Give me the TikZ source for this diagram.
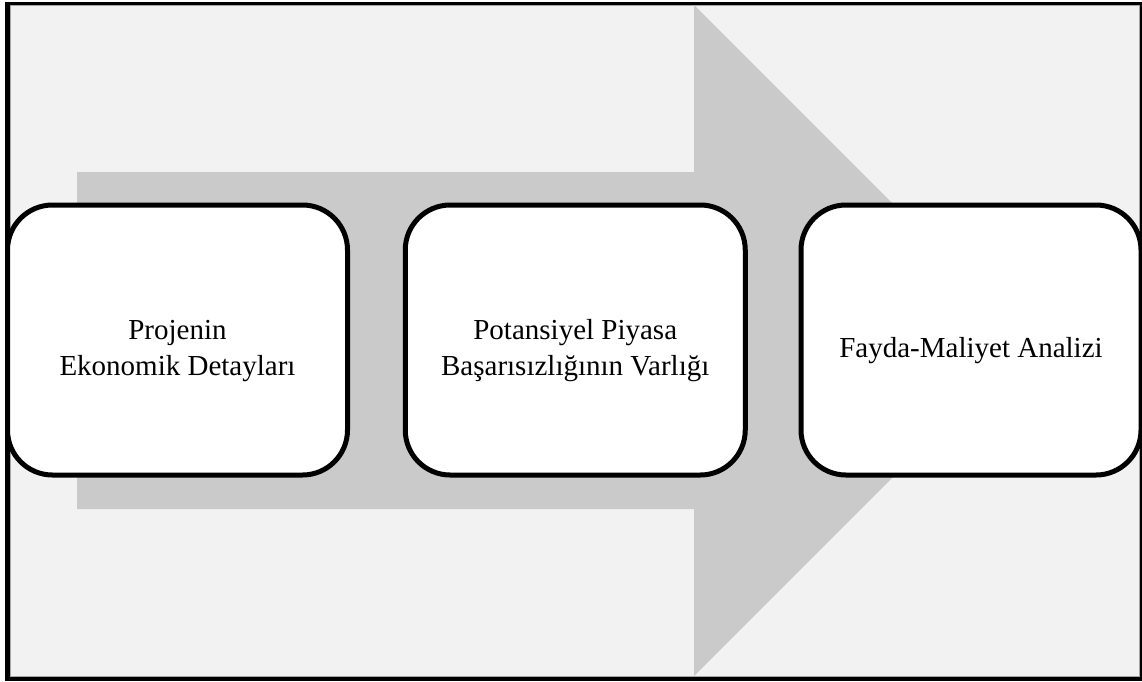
\documentclass[tikz,border=0pt]{standalone}
\usepackage{fontspec}
\setmainfont{Liberation Serif}
\definecolor{bggray}{HTML}{F2F2F2}
\definecolor{arrowgray}{HTML}{CACACA}
\newcommand{\topstrut}{\rule{0pt}{42pt}}
\tikzset{
  stepbox/.style={draw=black, line width=5pt, fill=white, rounded corners=45pt,
    minimum width=340pt, minimum height=270pt, align=center, inner sep=0pt,
    font=\fontsize{29}{36}\selectfont}
}
\begin{document}
\begin{tikzpicture}[x=1pt,y=-1pt]
\useasboundingbox (0,0) rectangle (1142,681);
\fill[white] (0,0) rectangle (1142,681);
\fill[black] (5,2) rectangle (1142,681);
\fill[bggray, draw=gray!70, line width=0.8pt] (10,5) rectangle (1139,676);
\fill[arrowgray] (77,172) -- (694,172) -- (694,5) -- (1029.5,340.5) -- (694,676) -- (694,509) -- (77,509) -- cycle;
\node[stepbox] (a) at (177.5,340) {\topstrut Projenin\\Ekonomik Detayları};
\node[stepbox] (b) at (575.25,340) {\topstrut Potansiyel Piyasa\\Başarısızlığının Varlığı};
\node[stepbox] (c) at (971,340) {\topstrut Fayda-Maliyet Analizi};
\end{tikzpicture}
\end{document}
